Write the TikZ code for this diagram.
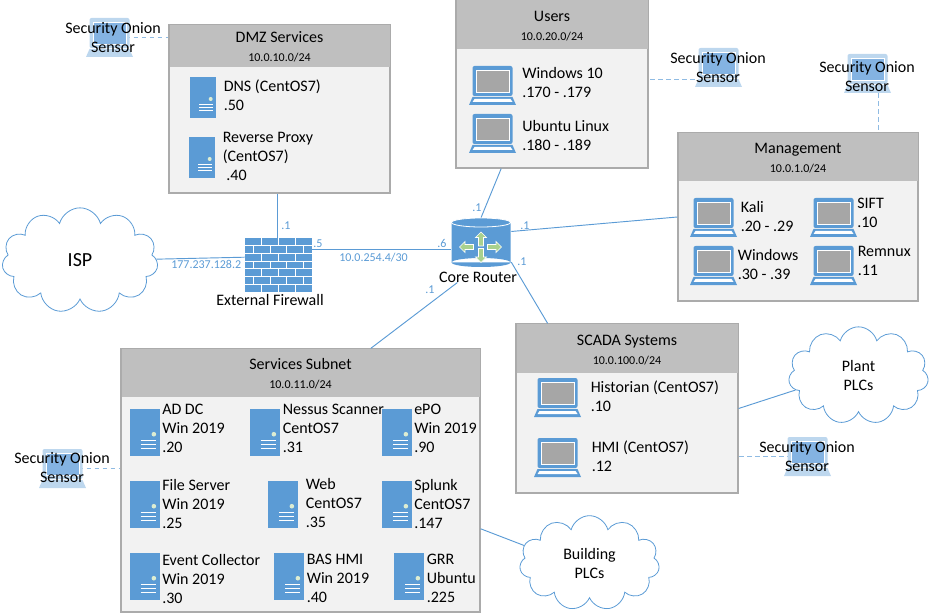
\documentclass[tikz,border=0pt]{standalone}
\usepackage{fontspec}
\usepackage{tikz}
\usetikzlibrary{shapes.symbols}
\setmainfont{Carlito}
\definecolor{iconblue}{HTML}{5B9BD5}
\definecolor{linkblue}{HTML}{5B9BD5}
\definecolor{dashblue}{HTML}{8FBBE3}
\definecolor{sensorlight}{HTML}{BDD7EE}
\definecolor{sensormid}{HTML}{84B3E2}
\definecolor{headgray}{HTML}{BFBFBF}
\definecolor{boxgray}{HTML}{F2F2F2}
\definecolor{edgegray}{HTML}{ABABAB}
\definecolor{screengray}{HTML}{A6A6A6}
\definecolor{arrowgreen}{HTML}{A9D18E}
\newcommand{\netfont}{\fontsize{9}{14.25}\selectfont}
\tikzset{
 subnetbox/.style={rectangle,draw=edgegray,fill=boxgray,line width=0.9pt,inner sep=0pt},
 subnethead/.style={rectangle,fill=headgray,inner sep=0pt,anchor=north},
 subnettitle/.style={inner sep=0pt,align=center,yshift=-1.1pt,font=\fontsize{12}{14.25}\selectfont},
 hosttext/.style={anchor=north west,inner sep=0pt,align=left,yshift=-1.5pt,font=\fontsize{12}{14.25}\selectfont,execute at begin node=\strut},
 plaintext/.style={inner sep=0pt,align=center,font=\fontsize{12}{19}\selectfont},
 iplabel/.style={anchor=base west,inner sep=0pt,text=linkblue,font=\fontsize{9}{11}\selectfont},
 netcloud/.style={cloud,cloud puffs=11,cloud ignores aspect,draw=linkblue,line width=0.6pt,inner sep=0pt,align=center,font=\fontsize{12}{14.25}\selectfont},
 iconbox/.style={rectangle,inner sep=0pt},
 wire/.style={draw=linkblue,line width=0.7pt},
 tapwire/.style={draw=dashblue,line width=0.75pt,dash pattern=on 3.5pt off 2.5pt},
 pics/laptop/.style={code={
  \fill[iconblue,rounded corners=1.5pt] (-20,-19.5) rectangle (20,10.5);
  \fill[screengray,draw=white,line width=0.6pt] (-16.5,-15.5) rectangle (16.5,6.5);
  \fill[iconblue] (-20,11.5) -- (20,11.5) -- (23.5,19.5) -- (-23.5,19.5) -- cycle;
  \fill[white] (-18,13.5) -- (18,13.5) -- (20,16.5) -- (-20,16.5) -- cycle;
 }},
 pics/sensorlap/.style={code={
  \fill[sensorlight,rounded corners=1.5pt] (-20,-19.5) rectangle (20,10.5);
  \fill[sensormid,draw=white,line width=0.6pt] (-16.5,-15.5) rectangle (16.5,6.5);
  \fill[sensorlight] (-20,11.5) -- (20,11.5) -- (23.5,19.5) -- (-23.5,19.5) -- cycle;
 }},
 pics/server/.style={code={
  \fill[iconblue] (-13,-20.5) rectangle (13,20.5);
  \fill[arrowgreen!40!white] (7.7,1.5) circle (2);
  \draw[white,line width=0.75pt] (-3.7,7.2) -- (9.7,7.2) (-3.7,10.5) -- (9.7,10.5) (-3.7,13.5) -- (9.7,13.5);
 }},
 pics/firewall/.style={code={
  \fill[iconblue] (-33.5,-27) rectangle (33.5,27);
  \draw[white,line width=0.75pt] (-33.5,-19.3) -- (33.5,-19.3) (-33.5,-11.6) -- (33.5,-11.6) (-33.5,-3.9) -- (33.5,-3.9)
   (-33.5,3.9) -- (33.5,3.9) (-33.5,11.6) -- (33.5,11.6) (-33.5,19.3) -- (33.5,19.3);
  \draw[white,line width=0.75pt,dash pattern=on 5.78pt off 5.78pt] (-16.7,-27) -- (-16.7,27) (0,-27) -- (0,27) (16.7,-27) -- (16.7,27);
  \draw[white,line width=0.75pt,dash pattern=on 5.78pt off 5.78pt,dash phase=5.78pt] (-25,-27) -- (-25,27) (-8.3,-27) -- (-8.3,27) (8.3,-27) -- (8.3,27) (25,-27) -- (25,27);
 }},
 pics/flowarrow/.style={code={
  \fill[arrowgreen,draw=white,line width=0.5pt] (0,-7) -- (5.5,-1.5) -- (2.5,-1.5) -- (2.5,7) -- (-2.5,7) -- (-2.5,-1.5) -- (-5.5,-1.5) -- cycle;
 }},
 pics/router/.style={code={
  \fill[iconblue] (-29.5,-20) rectangle (29.5,20) (0,20) ellipse [x radius=29.5,y radius=4.5];
  \draw[white,fill=iconblue,line width=0.6pt] (0,-20) ellipse [x radius=29.5,y radius=4.5];
  \pic at (0,-3.5) {flowarrow};
  \pic[rotate=180] at (0,13) {flowarrow};
  \pic[rotate=90] at (-14.5,4.5) {flowarrow};
  \pic[rotate=-90] at (13.5,4.5) {flowarrow};
 }},
}
\begin{document}
\begin{tikzpicture}[x=0.75pt,y=-0.75pt]
\useasboundingbox (0,0) rectangle (930,616);
% subnet boxes
\node[subnetbox,minimum width=165.75pt,minimum height=126pt] (dmz) at (279.5,109) {};
\node[subnetbox,minimum width=144pt,minimum height=126pt] (users) at (552,84) {};
\node[subnetbox,minimum width=180pt,minimum height=126pt] (mgmt) at (798,217) {};
\node[subnetbox,minimum width=166.5pt,minimum height=126.75pt] (scada) at (627,408.5) {};
\node[subnetbox,minimum width=269.25pt,minimum height=197.25pt] (svc) at (300.5,480.5) {};
% headers
\node[subnethead,minimum width=165pt,minimum height=31.5pt] (dmzhead) at (dmz.north) {};
\node[subnethead,minimum width=143.25pt,minimum height=36.75pt] (usershead) at (users.north) {};
\node[subnethead,minimum width=179.25pt,minimum height=36pt] (mgmthead) at (mgmt.north) {};
\node[subnethead,minimum width=165.75pt,minimum height=36.75pt] (scadahead) at (scada.north) {};
\node[subnethead,minimum width=268.5pt,minimum height=36pt] (svchead) at (svc.north) {};
\node[subnettitle] (dmztitle) at (dmzhead) {DMZ Services\\{\netfont 10.0.10.0/24}};
\node[subnettitle] (userstitle) at (usershead) {Users\\{\netfont 10.0.20.0/24}};
\node[subnettitle] (mgmttitle) at (mgmthead) {Management\\{\netfont 10.0.1.0/24}};
\node[subnettitle] (scadatitle) at (scadahead) {SCADA Systems\\{\netfont 10.0.100.0/24}};
\node[subnettitle] (svctitle) at (svchead) {Services Subnet\\{\netfont 10.0.11.0/24}};
% clouds
\node[netcloud,minimum width=117pt,minimum height=79pt,font=\fontsize{15}{18}\selectfont] (isp) at (80,260.5) {ISP};
\node[netcloud,minimum width=105pt,minimum height=73pt] (plant) at (858.5,375.5) {Plant\\PLCs};
\node[netcloud,minimum width=105pt,minimum height=71pt] (building) at (589.5,563) {Building\\PLCs};
% firewall, router
\node[iconbox,minimum width=50.25pt,minimum height=40.5pt] (fw) at (278.5,265) {};
\node[iconbox,minimum width=45pt,minimum height=36.75pt] (rtr) at (481,242.5) {};
\node[plaintext] (fwtext) at (270,300) {External Firewall};
\node[plaintext] (rtrtext) at (478,277) {Core Router};
% sensors
\node[iconbox,minimum width=35.25pt,minimum height=29.25pt] (sensdmz) at (109.5,37.5) {};
\node[iconbox,minimum width=35.25pt,minimum height=29.25pt] (sensusers) at (718.5,67.5) {};
\node[iconbox,minimum width=35.25pt,minimum height=29.25pt] (sensmgmt) at (867.5,73.5) {};
\node[iconbox,minimum width=35.25pt,minimum height=29.25pt] (sensscada) at (807.5,456.5) {};
\node[iconbox,minimum width=35.25pt,minimum height=29.25pt] (senssvc) at (62.5,468.5) {};
% links
\draw[wire] (fw.93) -- (fw.93 |- dmz.south);
\draw[wire] (isp.1) -- (fw.167);
\draw[wire] (fw.25) -- (fw.25 -| rtr.west);
\draw[wire] (rtr.north) -- (users.-121);
\draw[wire] (rtr.20) -- (mgmt.west);
\draw[wire] (rtr.-33) -- (scada.133);
\draw[wire] (rtrtext.-165) -- (svc.62.5);
\draw[wire] (scada.east) -- (plant.193);
\draw[wire] (svc.-15) -- (building.165);
% sensor taps
\draw[tapwire] (sensdmz.center) -- (sensdmz.center -| dmz.west);
\draw[tapwire] (sensusers.206) -- (sensusers.206 -| users.east);
\draw[tapwire] (sensmgmt.-62) -- (sensmgmt.-62 |- mgmt.north);
\draw[tapwire] (sensscada.center) -- (sensscada.center -| scada.east);
\draw[tapwire] (senssvc.center) -- (senssvc.center -| svc.west);
% icons
\pic at (fw) {firewall};
\pic at (rtr) {router};
\pic at (sensdmz) {sensorlap};
\pic at (sensusers) {sensorlap};
\pic at (sensmgmt) {sensorlap};
\pic at (sensscada) {sensorlap};
\pic at (senssvc) {sensorlap};
\pic at (203,97.5) {server};
\pic at (202,157.5) {server};
\pic at (492.5,85.5) {laptop};
\pic at (492.5,133.5) {laptop};
\pic at (713.5,217.5) {laptop};
\pic at (833.5,217.5) {laptop};
\pic at (713.5,265.5) {laptop};
\pic at (833.5,265.5) {laptop};
\pic at (557.5,397.5) {laptop};
\pic at (557.5,457.5) {laptop};
\pic[scale=1.15] at (145,432.5) {server};
\pic[scale=1.15] at (265,432.5) {server};
\pic[scale=1.15] at (397,432.5) {server};
\pic[scale=1.15] at (145,504.5) {server};
\pic[scale=1.15] at (283,504.5) {server};
\pic[scale=1.15] at (397,504.5) {server};
\pic[scale=1.15] at (145,576.5) {server};
\pic[scale=1.15] at (289,576.5) {server};
\pic[scale=1.15] at (409,576.5) {server};
% sensor names
\node[plaintext,font=\fontsize{12}{14.25}\selectfont] (sensdmztext) at (113,38) {Security Onion\\Sensor};
\node[plaintext,font=\fontsize{12}{14.25}\selectfont] (sensuserstext) at (718,68) {Security Onion\\Sensor};
\node[plaintext,font=\fontsize{12}{14.25}\selectfont] (sensmgmttext) at (867,77) {Security Onion\\Sensor};
\node[plaintext,font=\fontsize{12}{14.25}\selectfont] (sensscadatext) at (807,457) {Security Onion\\Sensor};
\node[plaintext,font=\fontsize{12}{14.25}\selectfont] (senssvctext) at (62,468) {Security Onion\\Sensor};
% host names
\node[hosttext] (dns) at (223.5,77.7) {DNS (CentOS7)\\.50};
\node[hosttext] (proxy) at (222.5,129.7) {Reverse Proxy\\(CentOS7)\\~.40};
\node[hosttext] (win10) at (522,64.7) {Windows 10\\.170 - .179};
\node[hosttext] (ubuntu) at (522,117.7) {Ubuntu Linux\\.180 - .189};
\node[hosttext] (kali) at (740.5,198.7) {Kali\\.20 - .29};
\node[hosttext] (sift) at (857,196) {SIFT\\.10};
\node[hosttext] (winmgmt) at (737.5,246.7) {Windows\\.30 - .39};
\node[hosttext] (remnux) at (857.5,243.7) {Remnux\\.11};
\node[hosttext] (historian) at (590.5,378.7) {Historian (CentOS7)\\.10};
\node[hosttext] (hmi) at (591.5,438.7) {HMI (CentOS7)\\.12};
\node[hosttext] (addc) at (162,401.7) {AD DC\\Win 2019\\.20};
\node[hosttext] (nessus) at (282.5,401.7) {Nessus Scanner\\CentOS7\\.31};
\node[hosttext] (epo) at (414,401.7) {ePO\\Win 2019\\.90};
\node[hosttext] (fileserver) at (162,476.7) {File Server\\Win 2019\\.25};
\node[hosttext] (web) at (305.5,475.7) {Web\\CentOS7\\.35};
\node[hosttext] (splunk) at (414,476.7) {Splunk\\CentOS7\\.147};
\node[hosttext] (collector) at (162,551.7) {Event Collector\\Win 2019\\.30};
\node[hosttext] (bashmi) at (306.5,551.7) {BAS HMI\\Win 2019\\.40};
\node[hosttext] (grr) at (426.5,551.7) {GRR\\Ubuntu\\.225};
% addresses on the links
\node[iplabel] (ipdmz) at (281,230) {.1};
\node[iplabel] (ipfwout) at (313,248) {.5};
\node[iplabel] (ipwan) at (171,268) {177.237.128.2};
\node[iplabel] (iptransit) at (339,262) {10.0.254.4/30};
\node[iplabel] (iprtrin) at (437,248) {.6};
\node[iplabel] (ipusers) at (472,212) {.1};
\node[iplabel] (ipmgmt) at (520,230) {.1};
\node[iplabel] (ipscada) at (517,266) {.1};
\node[iplabel] (ipsvc) at (425,293) {.1};
\end{tikzpicture}
\end{document}
